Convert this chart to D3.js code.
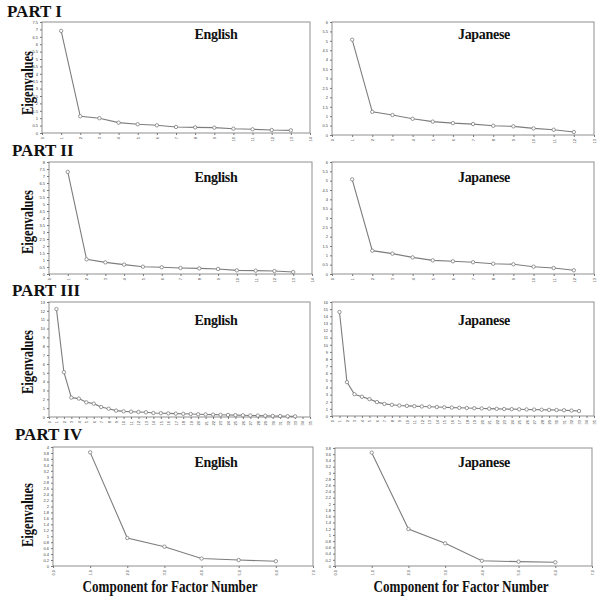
<!DOCTYPE html>
<html>
<head>
<meta charset="utf-8">
<script src="https://cdn.jsdelivr.net/npm/d3@7"></script>
<style>
  body { margin: 0; background: #fff; }
  svg { display: block; }
  .lbl { font-family: "Liberation Serif", "Times New Roman", serif; font-weight: bold; fill: #111; }
  .tk text { font-family: "Liberation Sans", Arial, sans-serif; font-size: 4px; fill: #444; }
</style>
</head>
<body>
<div id="chart"></div>
<script>
// eigenvalues
const part1English  = [6.9, 1.13, 1.0, 0.7, 0.59, 0.52, 0.41, 0.38, 0.36, 0.29, 0.25, 0.2, 0.18];
const part1Japanese = [5.06, 1.23, 1.06, 0.86, 0.71, 0.63, 0.58, 0.49, 0.46, 0.35, 0.28, 0.16];
const part2English  = [7.29, 1.05, 0.83, 0.67, 0.52, 0.48, 0.43, 0.4, 0.36, 0.26, 0.24, 0.21, 0.14];
const part2Japanese = [5.07, 1.25, 1.09, 0.89, 0.73, 0.68, 0.63, 0.55, 0.52, 0.39, 0.32, 0.2];
const part3English  = [12.2, 5.06, 2.19, 2.08, 1.66, 1.51, 1.13, 0.94, 0.72, 0.64, 0.6, 0.57, 0.53,
                       0.45, 0.43, 0.41, 0.38, 0.36, 0.34, 0.31, 0.29, 0.27, 0.25, 0.23, 0.21, 0.19,
                       0.17, 0.16, 0.14, 0.12, 0.11, 0.09, 0.07];
const part3Japanese = [14.6, 4.75, 3.06, 2.7, 2.37, 1.95, 1.7, 1.57, 1.47, 1.42, 1.38, 1.34, 1.3,
                       1.26, 1.22, 1.18, 1.15, 1.12, 1.09, 1.06, 1.03, 1.0, 0.98, 0.96, 0.94, 0.92,
                       0.9, 0.88, 0.86, 0.84, 0.81, 0.76, 0.7];
const part4English  = [3.82, 0.94, 0.65, 0.25, 0.2, 0.16];
const part4Japanese = [3.65, 1.19, 0.73, 0.17, 0.14, 0.12];

// axis settings per panel: [english, japanese]
const partNames = ["PART I", "PART II", "PART III", "PART IV"];
const langNames = ["English", "Japanese"];
const yMax  = [[7.5, 6], [8, 6], [13, 16], [4, 3.8]];
const yStep = [[0.5, 0.5], [0.5, 0.5], [1, 1], [0.2, 0.2]];
const xMax  = [[14, 13], [14, 13], [35, 35], [7, 7]];
const yTitle = "Eigenvalues";
const xTitle = "Component  for Factor Number";

const series = [[part1English, part1Japanese], [part2English, part2Japanese],
                [part3English, part3Japanese], [part4English, part4Japanese]];

const W = 604, H = 601;
const svg = d3.select("#chart").append("svg").attr("width", W).attr("height", H);

// panel boxes: left, right, top, bottom
const boxes = [
  [[42, 310, 22, 133], [332, 594, 22, 135]],
  [[49, 312, 162, 274], [332, 594, 162, 274]],
  [[49, 310, 302, 417], [332, 594, 302, 416]],
  [[53, 313, 447, 566], [335, 592, 448, 566]]
];
const partPos = [[7, 17], [12, 156], [12, 296], [15, 440]];
const titleY = [39, 182, 325, 467];
const eigY = [83, 222, 362, 515];

function drawPanel(r, c) {
  const [x0, x1, y0, y1] = boxes[r][c];
  const data = series[r][c];
  const x = d3.scaleLinear().domain([0, xMax[r][c]]).range([x0, x1]);
  const y = d3.scaleLinear().domain([0, yMax[r][c]]).range([y1, y0]);
  const g = svg.append("g");

  g.append("rect")
    .attr("x", x0).attr("y", y0)
    .attr("width", x1 - x0).attr("height", y1 - y0)
    .attr("fill", "none").attr("stroke", "#8f8f8f").attr("stroke-width", 1);

  const yTicks = d3.range(0, yMax[r][c] + 1e-9, yStep[r][c]);
  const ya = g.append("g").attr("class", "tk")
    .attr("transform", "translate(" + x0 + ",0)")
    .call(d3.axisLeft(y).tickValues(yTicks).tickSize(2).tickPadding(2)
      .tickFormat(d => +d.toFixed(1)));
  ya.select(".domain").remove();
  ya.selectAll("line").attr("stroke", "#777");

  const xTicks = d3.range(0, xMax[r][c] + 1);
  const xa = g.append("g").attr("class", "tk")
    .attr("transform", "translate(0," + y1 + ")")
    .call(d3.axisBottom(x).tickValues(xTicks).tickSize(2).tickPadding(2));
  xa.select(".domain").remove();
  xa.selectAll("line").attr("stroke", "#777");
  xa.selectAll("text").attr("transform", "rotate(-90)").attr("text-anchor", "end")
    .attr("dy", "0.35em").attr("y", 0).attr("x", -4);

  const line = d3.line().x((d, i) => x(i + 1)).y(d => y(d));
  g.append("path").datum(data)
    .attr("d", line).attr("fill", "none")
    .attr("stroke", "#7d7d7d").attr("stroke-width", 1.1);

  g.selectAll("circle.pt").data(data).enter().append("circle")
    .attr("class", "pt")
    .attr("cx", (d, i) => x(i + 1)).attr("cy", d => y(d))
    .attr("r", 1.7).attr("fill", "#fff").attr("stroke", "#7d7d7d").attr("stroke-width", 0.8);

  g.append("text").attr("class", "lbl")
    .attr("x", c === 0 ? 216 : 484).attr("y", titleY[r])
    .attr("text-anchor", "middle").attr("font-size", 14)
    .attr("letter-spacing", "-0.3")
    .text(langNames[c]);
}

partNames.forEach(function (p, r) {
  svg.append("text").attr("class", "lbl")
    .attr("x", partPos[r][0]).attr("y", partPos[r][1])
    .attr("font-size", 17).text(p);

  svg.append("text").attr("class", "lbl")
    .attr("transform", "translate(" + 33 + "," + eigY[r] + ") rotate(-90)")
    .attr("text-anchor", "middle").attr("font-size", 16)
    .attr("textLength", 64).attr("lengthAdjust", "spacingAndGlyphs")
    .text(yTitle);

  drawPanel(r, 0);
  drawPanel(r, 1);
});

[170, 461].forEach(function (cx) {
  svg.append("text").attr("class", "lbl")
    .attr("x", cx).attr("y", 592)
    .attr("text-anchor", "middle").attr("font-size", 16)
    .attr("textLength", 175).attr("lengthAdjust", "spacingAndGlyphs")
    .text(xTitle);
});
</script>
</body>
</html>
